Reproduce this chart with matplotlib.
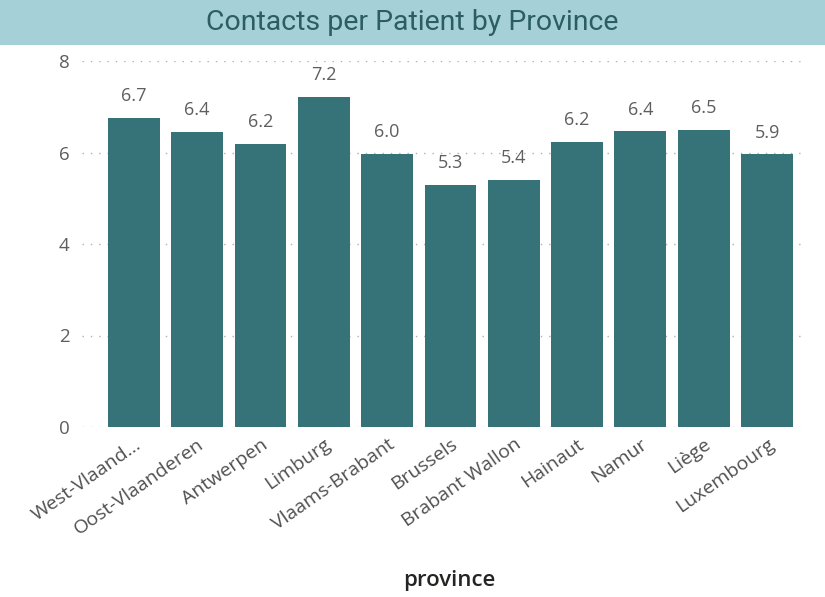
import matplotlib.pyplot as plt
from matplotlib.patches import Rectangle

provinces = ["West-Vlaand...", "Oost-Vlaanderen", "Antwerpen", "Limburg", "Vlaams-Brabant",
             "Brussels", "Brabant Wallon", "Hainaut", "Namur", "Liège", "Luxembourg"]
contacts = [6.75, 6.45, 6.19, 7.21, 5.97, 5.29, 5.40, 6.23, 6.46, 6.50, 5.96]
value_labels = ["6.7", "6.4", "6.2", "7.2", "6.0", "5.3", "5.4", "6.2", "6.4", "6.5", "5.9"]

bar_color = "#367378"
text_grey = "#605e5c"

plt.rcParams['font.family'] = ['Open Sans', 'DejaVu Sans']

fig = plt.figure(figsize=(8.25, 5.97), dpi=100)

# title banner
fig.patches.append(Rectangle((0, 1 - 45 / 597), 1, 45 / 597, transform=fig.transFigure,
                             facecolor="#a5d0d8", edgecolor="none", zorder=0))
fig.text(0.5, 1 - 22 / 597, "Contacts per Patient by Province", ha="center", va="center",
         fontsize=20.5, color="#2b5d63", family=['Roboto', 'DejaVu Sans'])

ax = fig.add_axes([82 / 825, 1 - 427 / 597, (805 - 82) / 825, (427 - 61) / 597])
x = range(len(provinces))
ax.bar(x, contacts, width=0.82, color=bar_color, zorder=2)

for xi, v, lab in zip(x, contacts, value_labels):
    ax.text(xi, v + 0.28, lab, ha="center", va="bottom", fontsize=13, color=text_grey)

ax.set_xlim(-0.82, len(provinces) - 0.4)
ax.set_ylim(0, 8)
ax.set_yticks([0, 2, 4, 6, 8])
ax.yaxis.grid(True, linestyle=(0, (1, 5)), color="#b0b0b0", linewidth=1, zorder=0)
ax.set_axisbelow(True)
for s in ax.spines.values():
    s.set_visible(False)
ax.tick_params(axis="both", length=0, colors=text_grey, labelsize=13.5)
ax.tick_params(axis="y", pad=9)
ax.set_xticks(list(x))
ax.set_xticklabels(provinces, rotation=35, ha="right", rotation_mode="anchor", fontsize=14,
                   color="#505050")
ax.tick_params(axis="x", pad=6)
ax.set_xlabel("province", fontsize=16, color="#252423", fontweight="semibold")
ax.xaxis.set_label_coords(0.508, -0.39)

fig.savefig("out.png", dpi=100)
